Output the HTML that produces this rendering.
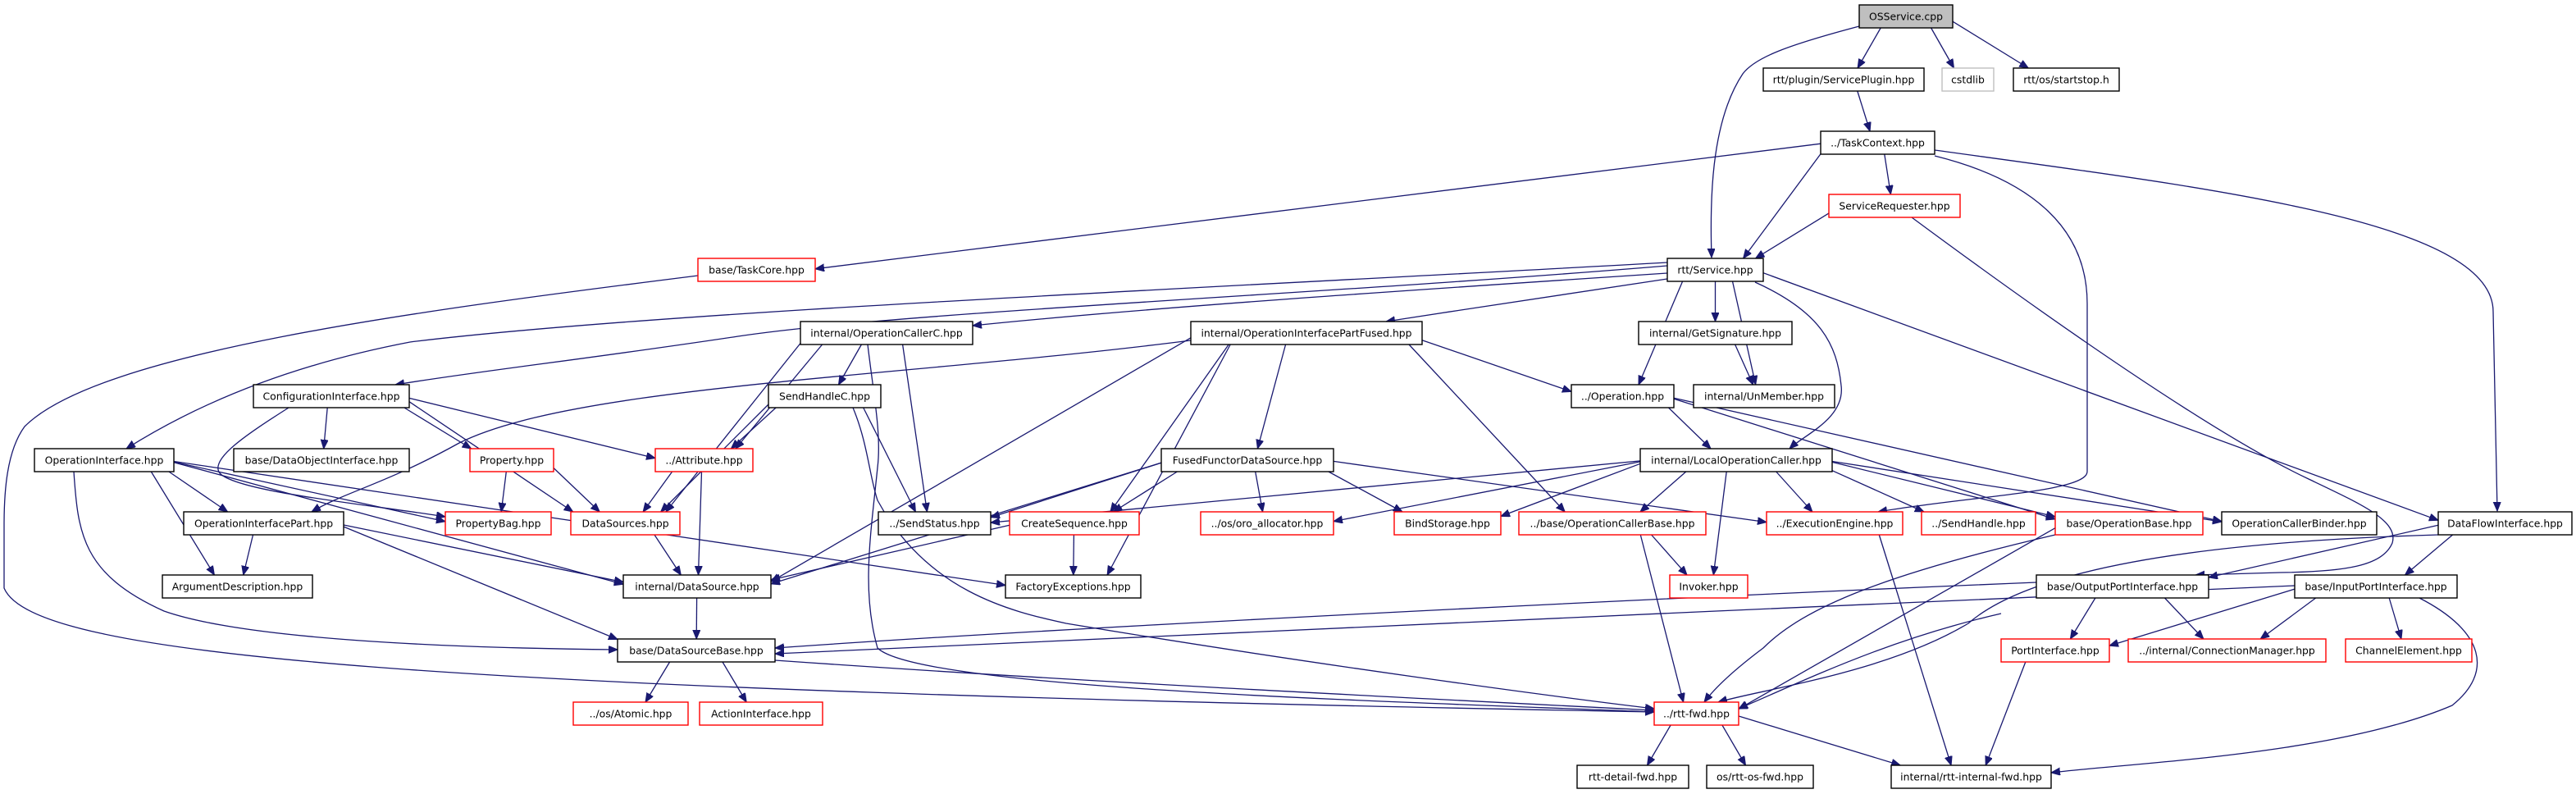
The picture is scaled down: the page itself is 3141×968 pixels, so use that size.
<!DOCTYPE html>
<html><head><meta charset="utf-8">
<style>
html,body{margin:0;padding:0;background:#fff;}
svg{display:block;}
text{font-family:"DejaVu Sans","Liberation Sans",sans-serif;font-size:12.4px;text-anchor:middle;fill:#000;}
rect{fill:#fff;stroke-width:1.4;}
rect.k{stroke:#000;}
rect.r{stroke:#ff0000;}
rect.g{stroke:#000;fill:#bfbfbf;}
rect.l{stroke:#bfbfbf;}
path.e{fill:none;stroke:#191970;stroke-width:1.3;}
</style></head>
<body>
<svg id="svg" width="3141" height="968" viewBox="0 0 3141 968" xmlns="http://www.w3.org/2000/svg">
<defs><marker id="ah" markerUnits="userSpaceOnUse" markerWidth="12" markerHeight="10" refX="11" refY="4.5" orient="auto"><path d="M0,0 L11,4.5 L0,9 z" fill="#191970" stroke="#191970"/></marker></defs>
<g id="edges"></g>
<g id="nodes">
<rect id="os" class="g" x="2267" y="6" width="114" height="28"/><text x="2324" y="24.5">OSService.cpp</text>
<rect id="sp" class="k" x="2150" y="83" width="196" height="28"/><text x="2248" y="101.5">rtt/plugin/ServicePlugin.hpp</text>
<rect id="cs" class="l" x="2368" y="83" width="63" height="28"/><text x="2399.5" y="101.5">cstdlib</text>
<rect id="ss" class="k" x="2455" y="83" width="129" height="28"/><text x="2519.5" y="101.5">rtt/os/startstop.h</text>
<rect id="tc" class="k" x="2220" y="160" width="139" height="28"/><text x="2289.5" y="178.5">../TaskContext.hpp</text>
<rect id="sr" class="r" x="2230" y="237" width="160" height="28"/><text x="2310" y="255.5">ServiceRequester.hpp</text>
<rect id="tk" class="r" x="851" y="315" width="143" height="28"/><text x="922.5" y="333.5">base/TaskCore.hpp</text>
<rect id="sv" class="k" x="2033" y="315" width="117" height="28"/><text x="2091.5" y="333.5">rtt/Service.hpp</text>
<rect id="occ" class="k" x="976" y="392" width="210" height="28"/><text x="1081" y="410.5">internal/OperationCallerC.hpp</text>
<rect id="oipf" class="k" x="1452" y="392" width="282" height="28"/><text x="1593" y="410.5">internal/OperationInterfacePartFused.hpp</text>
<rect id="gs" class="k" x="1998" y="392" width="187" height="28"/><text x="2091.5" y="410.5">internal/GetSignature.hpp</text>
<rect id="ci" class="k" x="309" y="469" width="190" height="28"/><text x="404" y="487.5">ConfigurationInterface.hpp</text>
<rect id="shc" class="k" x="937" y="469" width="137" height="28"/><text x="1005.5" y="487.5">SendHandleC.hpp</text>
<rect id="op" class="k" x="1916" y="469" width="125" height="28"/><text x="1978.5" y="487.5">../Operation.hpp</text>
<rect id="um" class="k" x="2065" y="469" width="172" height="28"/><text x="2151" y="487.5">internal/UnMember.hpp</text>
<rect id="oi" class="k" x="42" y="547" width="170" height="28"/><text x="127" y="565.5">OperationInterface.hpp</text>
<rect id="doi" class="k" x="285" y="547" width="214" height="28"/><text x="392" y="565.5">base/DataObjectInterface.hpp</text>
<rect id="pr" class="r" x="573" y="547" width="102" height="28"/><text x="624" y="565.5">Property.hpp</text>
<rect id="at" class="r" x="799" y="547" width="119" height="28"/><text x="858.5" y="565.5">../Attribute.hpp</text>
<rect id="ffd" class="k" x="1416" y="547" width="210" height="28"/><text x="1521" y="565.5">FusedFunctorDataSource.hpp</text>
<rect id="loc" class="k" x="2000" y="547" width="234" height="28"/><text x="2117" y="565.5">internal/LocalOperationCaller.hpp</text>
<rect id="oip" class="k" x="224" y="624" width="195" height="28"/><text x="321.5" y="642.5">OperationInterfacePart.hpp</text>
<rect id="pb" class="r" x="543" y="624" width="129" height="28"/><text x="607.5" y="642.5">PropertyBag.hpp</text>
<rect id="dss" class="r" x="696" y="624" width="133" height="28"/><text x="762.5" y="642.5">DataSources.hpp</text>
<rect id="sst" class="k" x="1071" y="624" width="137" height="28"/><text x="1139.5" y="642.5">../SendStatus.hpp</text>
<rect id="cseq" class="r" x="1231" y="624" width="158" height="28"/><text x="1310" y="642.5">CreateSequence.hpp</text>
<rect id="oa" class="r" x="1464" y="624" width="162" height="28"/><text x="1545" y="642.5">../os/oro_allocator.hpp</text>
<rect id="bs" class="r" x="1700" y="624" width="130" height="28"/><text x="1765" y="642.5">BindStorage.hpp</text>
<rect id="ocb" class="r" x="1852" y="624" width="228" height="28"/><text x="1966" y="642.5">../base/OperationCallerBase.hpp</text>
<rect id="ee" class="r" x="2154" y="624" width="166" height="28"/><text x="2237" y="642.5">../ExecutionEngine.hpp</text>
<rect id="sh" class="r" x="2343" y="624" width="139" height="28"/><text x="2412.5" y="642.5">../SendHandle.hpp</text>
<rect id="ob" class="r" x="2506" y="624" width="180" height="28"/><text x="2596" y="642.5">base/OperationBase.hpp</text>
<rect id="ocbi" class="k" x="2709" y="624" width="189" height="28"/><text x="2803.5" y="642.5">OperationCallerBinder.hpp</text>
<rect id="dfi" class="k" x="2973" y="624" width="163" height="28"/><text x="3054.5" y="642.5">DataFlowInterface.hpp</text>
<rect id="ad" class="k" x="198" y="701" width="183" height="28"/><text x="289.5" y="719.5">ArgumentDescription.hpp</text>
<rect id="ids" class="k" x="760" y="701" width="180" height="28"/><text x="850" y="719.5">internal/DataSource.hpp</text>
<rect id="fe" class="k" x="1226" y="701" width="165" height="28"/><text x="1308.5" y="719.5">FactoryExceptions.hpp</text>
<rect id="inv" class="r" x="2036" y="701" width="95" height="28"/><text x="2083.5" y="719.5">Invoker.hpp</text>
<rect id="opi" class="k" x="2483" y="701" width="210" height="28"/><text x="2588" y="719.5">base/OutputPortInterface.hpp</text>
<rect id="ipi" class="k" x="2798" y="701" width="198" height="28"/><text x="2897" y="719.5">base/InputPortInterface.hpp</text>
<rect id="dsb" class="k" x="753" y="779" width="192" height="28"/><text x="849" y="797.5">base/DataSourceBase.hpp</text>
<rect id="pi" class="r" x="2440" y="779" width="132" height="28"/><text x="2506" y="797.5">PortInterface.hpp</text>
<rect id="cm" class="r" x="2595" y="779" width="241" height="28"/><text x="2715.5" y="797.5">../internal/ConnectionManager.hpp</text>
<rect id="ce" class="r" x="2860" y="779" width="154" height="28"/><text x="2937" y="797.5">ChannelElement.hpp</text>
<rect id="atom" class="r" x="699" y="856" width="140" height="28"/><text x="769" y="874.5">../os/Atomic.hpp</text>
<rect id="ai" class="r" x="853" y="856" width="150" height="28"/><text x="928" y="874.5">ActionInterface.hpp</text>
<rect id="fwd" class="r" x="2017" y="856" width="103" height="28"/><text x="2068.5" y="874.5">../rtt-fwd.hpp</text>
<rect id="dfwd" class="k" x="1923" y="933" width="136" height="28"/><text x="1991" y="951.5">rtt-detail-fwd.hpp</text>
<rect id="osf" class="k" x="2081" y="933" width="130" height="28"/><text x="2146" y="951.5">os/rtt-os-fwd.hpp</text>
<rect id="inf" class="k" x="2306" y="933" width="195" height="28"/><text x="2403.5" y="951.5">internal/rtt-internal-fwd.hpp</text>
</g>
</svg>
<script>
(function(){
var NS="http://www.w3.org/2000/svg";
var g=document.getElementById("edges");
function B(id){var r=document.getElementById(id);var x=+r.getAttribute("x"),y=+r.getAttribute("y"),w=+r.getAttribute("width"),h=+r.getAttribute("height");return {x1:x,x2:x+w,y1:y,y2:y+h,cx:x+w/2,cy:y+h/2,hw:w/2,hh:h/2};}
function add(d){var p=document.createElementNS(NS,"path");p.setAttribute("d",d);p.setAttribute("class","e");p.setAttribute("marker-end","url(#ah)");g.appendChild(p);}
function clip(b,dx,dy){var t=Math.min(dx?b.hw/Math.abs(dx):1e9,dy?b.hh/Math.abs(dy):1e9);return [b.cx+dx*t,b.cy+dy*t];}
var D="os sp,os cs,os ss,sp tc,tc tk,tc sv,tc sr,sr sv,sv op,sv gs,sv um,sv dfi,occ shc,occ at,occ dss,occ sst,oipf ids,oipf cseq,oipf ffd,oipf fe,oipf ocb,oipf op,gs um,ci doi,ci pr,ci at,ci dss,shc at,shc dss,shc sst,op loc,op ob,op ocbi,oi oip,oi ad,oi pb,oi ids,oi fe,pr pb,pr dss,at dss,at ids,ffd sst,ffd cseq,ffd oa,ffd bs,ffd ids,ffd ee,loc sst,loc oa,loc bs,loc ocb,loc ee,loc sh,loc ob,loc ocbi,loc inv,oip ad,oip dsb,oip ids,dss ids,cseq ids,cseq fe,ocb inv,ocb fwd,ee inf,ob fwd,dfi opi,dfi ipi,ids dsb,opi pi,opi cm,ipi pi,ipi cm,ipi ce,dsb atom,dsb ai,pi inf,fwd dfwd,fwd osf,fwd inf".split(",");
D.forEach(function(s){var a=s.split(" ");var S=B(a[0]),T=B(a[1]);
var sxo=Math.max(-S.hw+10,Math.min(S.hw-10,(T.cx-S.cx)*0.3));
var txo=Math.max(-T.hw+10,Math.min(T.hw-10,(S.cx-T.cx)*0.12));
var scx=S.cx+sxo, tcx=T.cx+txo;
var dx=tcx-scx, dy=T.cy-S.cy;
var Sb={cx:scx,cy:S.cy,hw:S.hw-Math.abs(sxo),hh:S.hh};
var Tb={cx:tcx,cy:T.cy,hw:T.hw-Math.abs(txo),hh:T.hh};
var p=clip(Sb,dx,dy), q=clip(Tb,-dx,-dy);
add("M"+p[0].toFixed(1)+","+p[1].toFixed(1)+" L"+q[0].toFixed(1)+","+q[1].toFixed(1));});
var C=[
"M2267,32 C2180,55 2140,70 2125,90 C2085,150 2085,250 2087,314",
"M851,336 C500,380 120,430 30,520 C8,550 5,600 5,640 L5,717 C40,800 500,840 2017,868",
"M2359,190 C2480,220 2545,280 2545,370 L2545,575 C2545,600 2400,605 2290,624",
"M2359,183 C2700,230 3040,270 3040,380 L3045,623",
"M2331,265 C2500,390 2700,530 2815,584 C2880,615 2925,635 2917,662 C2905,690 2860,697 2780,698 L2677,701",
"M2973,652 C2700,660 2480,690 2400,760 C2300,820 2150,840 2095,856",
"M2506,652 C2300,700 2200,740 2150,790 C2110,820 2090,840 2078,856",
"M2033,320 C1500,350 800,380 500,417 C380,440 260,480 154,547",
"M2033,324 C1600,360 1100,380 900,410 C700,440 600,450 482,469",
"M2033,333 C1700,355 1400,375 1186,397",
"M2033,340 C1900,360 1800,375 1690,392",
"M2140,344 C2220,380 2240,420 2245,470 C2250,510 2200,530 2182,547",
"M1452,415 C1100,460 700,470 560,540 C470,590 420,600 380,624",
"M352,497 C300,530 255,560 268,577 C290,600 450,615 543,630",
"M90,575 C95,650 100,700 200,745 C300,780 550,790 753,792",
"M2483,710 C2000,730 1300,765 945,790",
"M2798,714 C2200,740 1300,780 945,797",
"M945,805 C1300,830 1700,850 2017,866",
"M2950,729 C3030,770 3040,820 2990,860 C2850,920 2600,930 2501,942",
"M2440,748 C2300,780 2200,830 2120,864",
"M1058,420 C1065,480 1075,530 1070,570 C1062,650 1050,720 1070,790 C1120,840 1700,855 2017,868",
"M1040,497 C1058,540 1060,580 1070,610 C1130,720 1230,745 1300,760 C1600,810 1900,850 2017,864"
];
C.forEach(add);
})();
</script>
</body></html>
